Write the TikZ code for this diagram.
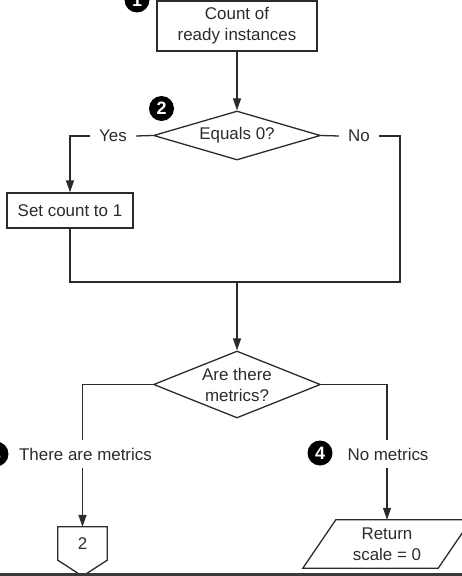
\documentclass[tikz,border=0pt]{standalone}
\usepackage{fontspec}
\setmainfont{Liberation Sans}
\usetikzlibrary{shapes.geometric,arrows.meta,calc}
\definecolor{ink}{HTML}{2B2B2B}
\definecolor{band}{HTML}{3A3A3A}
\tikzset{
  every node/.style={font=\fontsize{17}{21}\selectfont, text=ink},
  flow/.style={draw=ink, line width=1.3bp},
  arr/.style={flow, -{Triangle[length=12bp,width=8bp]}},
  procbox/.style={flow, rectangle, align=center, inner sep=0pt},
  decision/.style={flow, diamond, aspect=3.4, inner sep=0pt, align=center},
  branchlbl/.style={inner xsep=9bp, inner ysep=0pt, minimum height=28bp},
  marker/.style={circle, fill=black, inner sep=0pt, minimum size=25bp,
    text=white, font=\fontsize{18}{18}\selectfont\bfseries},
  plain/.style={inner sep=0pt, align=center}
}
\begin{document}
\begin{tikzpicture}[x=1bp, y=-1bp]
\useasboundingbox (0,0) rectangle (462,576);

% process steps
\node[procbox, minimum width=160bp, minimum height=50bp] (count) at (237,26)
  {Count of\\ready instances};
\node[decision, minimum width=167bp, minimum height=49bp] (zero) at (237,135.5)
  {Equals 0?};
\node[procbox, minimum width=126bp, minimum height=35bp] (setone) at (70,210.5)
  {Set count to 1};
\node[decision, aspect=2.5, minimum width=167bp, minimum height=67bp] (metrics) at (237,384.5)
  {Are there\\metrics?};

% branch labels
\node[branchlbl] (yes) at (113,136) {Yes};
\node[branchlbl] (no) at (359,136) {No};
\node[branchlbl, inner xsep=0pt] (hasm) at (85.5,454) {There are metrics};
\node[branchlbl, inner xsep=0pt] (nom) at (388,454) {No metrics};

% numbered markers
\node[marker] (m1) at (137,0) {1};
\node[marker] (m2) at (161.5,108.5) {2};
\node[marker] (m3) at (-4,454) {3};
\node[marker] (m4) at (320,453) {4};

% off-page connector
\node[plain, minimum width=49bp, minimum height=33bp] (pent) at (82.5,543.5) {2};
\draw[flow] (pent.north west) -- (pent.north east) -- (pent.south east)
  -- ($(pent.south)+(0,16)$) -- (pent.south west) -- cycle;

% output parallelogram
\node[plain, minimum width=135bp, minimum height=48bp] (ret) at (387,544)
  {Return\\scale = 0};
\draw[flow] ($(ret.south west)+(-16.5,0)$) -- ($(ret.north west)+(16.5,0)$)
  -- ($(ret.north east)+(16.5,0)$) -- ($(ret.south east)+(-16.5,0)$) -- cycle;

% junctions
\coordinate (join) at (237,282);
\coordinate (noturn) at (400,282);

% connectors
\draw[arr] (count) -- (zero.north);
\draw[flow] (zero.west) -- (yes.east);
\draw[arr] (yes.west) -| (setone.north);
\draw[flow] (zero.east) -- (no.west);
\draw[flow] (no.east) -| (noturn) -- (join);
\draw[flow] (setone.south) |- (join);
\draw[arr] (join) -- (metrics.north);
\draw[flow] (metrics.west) -| (pent.north |- hasm.north);
\draw[arr] (pent.north |- hasm.south) -- (pent.north);
\draw[flow] (metrics.east) -| (ret.north |- nom.north);
\draw[arr] (ret.north |- nom.south) -- (ret.north);

% dark strip along the lower edge
\fill[band] (0,573) rectangle (462,576);
\end{tikzpicture}
\end{document}
